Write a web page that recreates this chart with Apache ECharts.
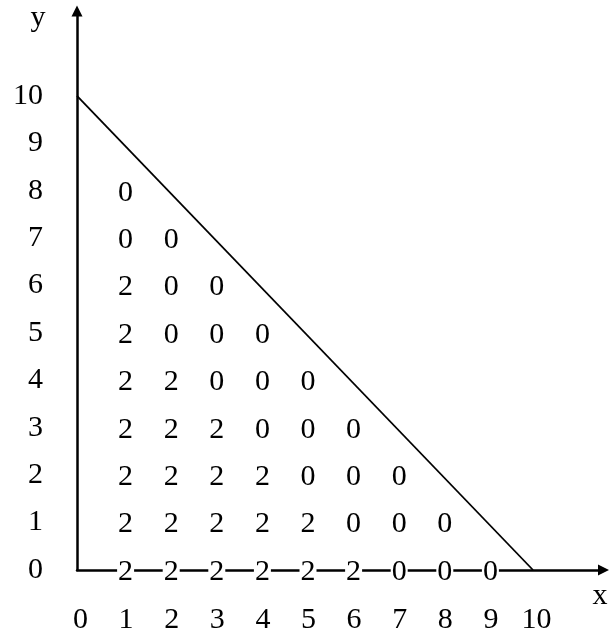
<!DOCTYPE html>
<html>
<head>
<meta charset="utf-8">
<script src="https://cdn.jsdelivr.net/npm/echarts@6/dist/echarts.min.js"></script>
<style>
  html, body { margin: 0; padding: 0; background: #fff; }
  #chart { width: 609px; height: 636px; }
</style>
</head>
<body>
<div id="chart"></div>
<script>
// tick labels
const xTicks = [0, 1, 2, 3, 4, 5, 6, 7, 8, 9, 10]
const yTicks = [0, 1, 2, 3, 4, 5, 6, 7, 8, 9, 10]

// cell values, one row per y (row index = y), entries for x = 1, 2, ...
const row0 = [2, 2, 2, 2, 2, 2, 0, 0, 0]
const row1 = [2, 2, 2, 2, 2, 0, 0, 0]
const row2 = [2, 2, 2, 2, 0, 0, 0]
const row3 = [2, 2, 2, 0, 0, 0]
const row4 = [2, 2, 0, 0, 0]
const row5 = [2, 0, 0, 0]
const row6 = [2, 0, 0]
const row7 = [0, 0]
const row8 = [0]

// boundary line x + y = 10
const boundary = [[0, 10], [10, 0]]

const rows = [row0, row1, row2, row3, row4, row5, row6, row7, row8]
const cells = []
rows.forEach((r, y) => r.forEach((v, i) => cells.push([i + 1, y, v])))

const font = 'Liberation Serif'

const chart = echarts.init(document.getElementById('chart'))
chart.setOption({
  backgroundColor: '#fff',
  animation: false,
  grid: { left: 77, right: 5.5, top: 11, bottom: 66 },
  xAxis: {
    type: 'value',
    min: 0,
    max: 11.546,
    interval: 1,
    splitLine: { show: false },
    axisTick: { show: false },
    axisLine: {
      lineStyle: { color: '#000', width: 2.5 },
      symbol: ['none', 'triangle'],
      symbolSize: [11, 11]
    },
    axisLabel: {
      margin: 35,
      padding: [0, 0, 0, 7],
      color: '#000',
      fontFamily: font,
      fontSize: 30,
      formatter: v => xTicks.includes(v) ? String(v) : ''
    }
  },
  yAxis: {
    type: 'value',
    min: 0,
    max: 11.79,
    interval: 1,
    splitLine: { show: false },
    axisTick: { show: false },
    axisLine: {
      lineStyle: { color: '#000', width: 2.5 },
      symbol: ['none', 'triangle'],
      symbolSize: [11, 11]
    },
    axisLabel: {
      margin: 34,
      padding: [2, 0, 0, 0],
      color: '#000',
      fontFamily: font,
      fontSize: 30,
      formatter: v => yTicks.includes(v) ? String(v) : ''
    }
  },
  graphic: [
    { type: 'text', x: 38, y: 18, style: { text: 'y', fontFamily: font, fontSize: 30, fill: '#000', align: 'center', verticalAlign: 'middle' } },
    { type: 'text', x: 600, y: 596, style: { text: 'x', fontFamily: font, fontSize: 30, fill: '#000', align: 'center', verticalAlign: 'middle' } }
  ],
  series: [
    {
      type: 'line',
      data: boundary,
      symbol: 'none',
      lineStyle: { color: '#000', width: 1.8 },
      z: 3
    },
    {
      type: 'scatter',
      data: cells,
      symbolSize: 0,
      itemStyle: { opacity: 1 },
      z: 5,
      label: {
        show: true,
        position: 'inside',
        offset: [3, 2],
        color: '#000',
        fontFamily: font,
        fontSize: 30,
        backgroundColor: '#fff',
        padding: [0, 1],
        formatter: p => String(p.value[2])
      }
    }
  ]
})
</script>
</body>
</html>
